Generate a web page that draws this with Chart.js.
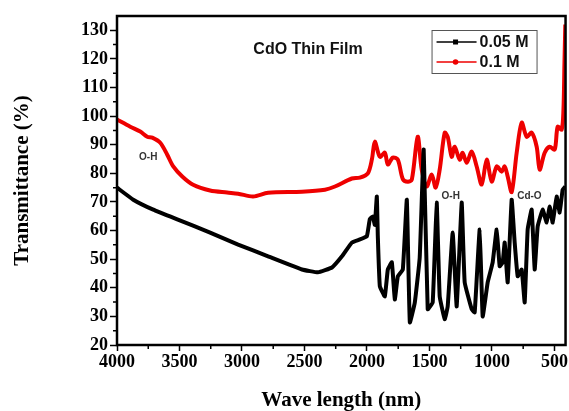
<!DOCTYPE html>
<html>
<head>
<meta charset="utf-8">
<title>CdO Thin Film</title>
<script src="https://cdn.jsdelivr.net/npm/chart.js@4.4.1/dist/chart.umd.min.js"></script>
<style>
  html, body { margin: 0; padding: 0; background: #fff; }
  #wrap { width: 569px; height: 411px; position: relative; }
</style>
</head>
<body>
<div id="wrap"><canvas id="spectrum"></canvas></div>
<script>
// ================= DATA =================
const xTicks = [4000, 3500, 3000, 2500, 2000, 1500, 1000, 500];
const yTicks = [20, 30, 40, 50, 60, 70, 80, 90, 100, 110, 120, 130];

// 0.05 M film
const wave05 = [4000, 3870, 3710, 3518, 3255, 3031, 2791, 2520, 2392, 2280, 2200, 2121, 2057, 2001,
  1977, 1953, 1937, 1921, 1913, 1897, 1857, 1833, 1801, 1777, 1753, 1713, 1681, 1657, 1617, 1578,
  1546, 1514, 1474, 1442, 1418, 1378, 1354, 1314, 1282, 1242, 1218, 1162, 1138, 1098, 1074, 1034,
  994, 962, 938, 914, 898, 874, 842, 818, 794, 762, 738, 714, 682, 658, 634, 594, 562, 538, 514,
  482, 458, 434, 413];
const trans05 = [75.0, 70.8, 67.3, 63.9, 59.3, 55.1, 51.0, 46.4, 45.4, 47.1, 51.0, 55.8, 56.9, 58.0,
  64.0, 64.9, 62.0, 71.9, 57.9, 40.5, 37.0, 46.4, 48.9, 35.9, 44.0, 46.4, 70.8, 27.9, 34.9, 50.5,
  88.3, 32.5, 34.9, 69.8, 37.0, 29.0, 33.5, 59.3, 33.5, 69.8, 41.9, 32.5, 31.4, 60.4, 30.0, 41.9,
  48.9, 60.4, 47.5, 48.9, 55.8, 41.9, 70.8, 55.8, 44.0, 46.4, 34.9, 60.4, 67.3, 46.4, 61.4, 67.3,
  62.8, 68.4, 62.8, 71.9, 66.3, 74.3, 75.4];

// 0.1 M film
const wave1 = [4000, 3894, 3814, 3758, 3718, 3654, 3598, 3550, 3478, 3391, 3255, 3119, 3031, 2911,
  2791, 2520, 2336, 2256, 2121, 2057, 1993, 1960, 1937, 1897, 1857, 1833, 1793, 1753, 1713, 1673,
  1641, 1594, 1562, 1522, 1482, 1450, 1418, 1378, 1354, 1322, 1298, 1258, 1234, 1202, 1162, 1122,
  1082, 1042, 1002, 962, 922, 898, 874, 842, 802, 762, 722, 682, 642, 618, 578, 538, 498, 474, 442,
  428, 420, 413];
const trans1 = [98.8, 96.3, 94.6, 92.8, 92.5, 90.7, 86.5, 82.4, 78.9, 76.0, 74.0, 73.3, 72.9, 71.9,
  73.2, 73.6, 74.3, 75.4, 78.2, 78.5, 80.0, 85.0, 91.1, 85.8, 87.2, 83.1, 85.5, 84.8, 78.0, 77.1,
  77.8, 92.8, 81.3, 75.4, 79.6, 75.0, 81.3, 94.2, 92.8, 85.8, 89.3, 84.8, 87.2, 83.7, 87.6, 82.4,
  76.1, 84.8, 77.1, 82.4, 80.6, 82.4, 78.9, 73.5, 87.2, 97.7, 92.8, 94.2, 89.3, 81.3, 87.2, 89.3,
  88.3, 96.3, 95.3, 102, 118, 132];

// band labels: [text, wavelength, transmittance]
const bandLabels = [["O-H", 3750, 85.8], ["O-H", 1330, 71.9], ["Cd-O", 700, 71.9]];

const RED = "rgb(238,0,0)";
const SERIF = "'Liberation Serif', 'Times New Roman', serif";
const SANS = "'Liberation Sans', Arial, sans-serif";

function toPoints(xs, ys) {
  return xs.map((x, i) => ({ x, y: ys[i] }));
}

// ================= DECORATION PLUGIN =================
const framePlugin = {
  id: "frame",
  afterDatasetsDraw(chart) {
    const { ctx, chartArea: a, scales } = chart;
    const xs = scales.x, ys = scales.y;
    ctx.save();

    // minor ticks
    ctx.strokeStyle = "#000";
    ctx.lineWidth = 1.5;
    ctx.beginPath();
    for (let v = 25; v < 135; v += 10) {
      const py = ys.getPixelForValue(v);
      ctx.moveTo(a.left, py); ctx.lineTo(a.left - 4, py);
    }
    for (let v = 3750; v > 411; v -= 500) {
      const px = xs.getPixelForValue(v);
      ctx.moveTo(px, a.bottom); ctx.lineTo(px, a.bottom + 4);
    }
    ctx.stroke();

    // box round the plot
    ctx.lineWidth = 2.5;
    ctx.strokeRect(a.left, a.top, a.right - a.left, a.bottom - a.top);

    // band labels
    ctx.fillStyle = "#333";
    ctx.font = "bold 10px " + SANS;
    ctx.textAlign = "center";
    ctx.textBaseline = "middle";
    bandLabels.forEach(([t, x, y]) => {
      ctx.fillText(t, xs.getPixelForValue(x), ys.getPixelForValue(y));
    });

    // title inside plot
    ctx.fillStyle = "#111";
    ctx.font = "bold 16px " + SANS;
    ctx.textBaseline = "alphabetic";
    ctx.fillText("CdO Thin Film", a.left + 191, a.top + 38);

    // legend
    const lx = a.right - 134, ly = a.top + 14;
    ctx.lineWidth = 1;
    ctx.strokeStyle = "#555";
    ctx.strokeRect(lx + 0.5, ly + 0.5, 105, 43);
    const rows = [["0.05 M", "#000", "square", ly + 12], ["0.1 M", RED, "circle", ly + 32]];
    rows.forEach(([label, color, shape, y]) => {
      ctx.strokeStyle = color;
      ctx.fillStyle = color;
      ctx.lineWidth = 1.5;
      ctx.beginPath();
      ctx.moveTo(lx + 5, y); ctx.lineTo(lx + 45, y);
      ctx.stroke();
      if (shape === "square") {
        ctx.fillRect(lx + 21.5, y - 2.5, 5, 5);
      } else {
        ctx.beginPath();
        ctx.arc(lx + 24, y, 2.8, 0, Math.PI * 2);
        ctx.fill();
      }
      ctx.fillStyle = "#111";
      ctx.font = "bold 16px " + SANS;
      ctx.textAlign = "left";
      ctx.textBaseline = "middle";
      ctx.fillText(label, lx + 48, y + 1);
    });

    ctx.restore();
  }
};

// ================= CHART =================
const ctx = document.getElementById("spectrum");
new Chart(ctx, {
  type: "line",
  data: {
    datasets: [
      {
        label: "0.05 M",
        data: toPoints(wave05, trans05),
        borderColor: "#000",
        borderWidth: 4,
        pointRadius: 0,
        tension: 0.1
      },
      {
        label: "0.1 M",
        data: toPoints(wave1, trans1),
        borderColor: RED,
        borderWidth: 4,
        pointRadius: 0,
        tension: 0.3
      }
    ]
  },
  options: {
    responsive: true,
    maintainAspectRatio: false,
    animation: false,
    events: [],
    layout: { padding: { top: 16, right: 3, left: 0, bottom: 0 } },
    plugins: { legend: { display: false }, tooltip: { enabled: false } },
    scales: {
      x: {
        type: "linear",
        reverse: true,
        min: 411,
        max: 4000,
        afterBuildTicks: axis => { axis.ticks = xTicks.map(v => ({ value: v })); },
        afterFit: axis => { axis.height = 66; },
        ticks: {
          color: "#000",
          font: { family: SERIF, size: 18, weight: "bold" },
          padding: 1,
          maxRotation: 0,
          autoSkip: false,
          callback: v => String(v)
        },
        grid: { drawOnChartArea: false, drawTicks: true, tickLength: 6, tickColor: "#000", tickWidth: 1.5 },
        border: { display: false },
        title: {
          display: true,
          text: "Wave length (nm)",
          color: "#000",
          font: { family: SERIF, size: 21, weight: "bold", lineHeight: 1 },
          padding: { top: 0, bottom: 0 }
        }
      },
      y: {
        min: 20,
        max: 135,
        afterBuildTicks: axis => { axis.ticks = yTicks.map(v => ({ value: v })); },
        afterFit: axis => { axis.width = 117; },
        ticks: { color: "#000", font: { family: SERIF, size: 18, weight: "bold" }, padding: 2, callback: v => String(v) },
        grid: { drawOnChartArea: false, drawTicks: true, tickLength: 7, tickColor: "#000", tickWidth: 1.5 },
        border: { display: false },
        title: {
          display: true,
          text: "Transmittance (%)",
          color: "#000",
          font: { family: SERIF, size: 21, weight: "bold", lineHeight: 1 },
          padding: { top: 12, bottom: 0 }
        }
      }
    }
  },
  plugins: [framePlugin]
});
</script>
</body>
</html>
